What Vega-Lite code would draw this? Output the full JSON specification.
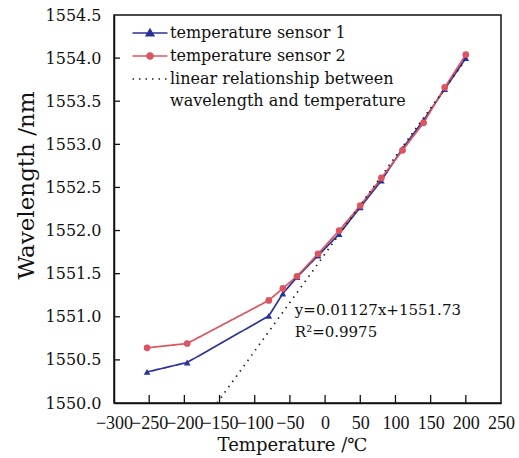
{
  "$schema": "https://vega.github.io/schema/vega-lite/v6.json",
  "width": 387,
  "height": 388,
  "autosize": "none",
  "padding": {"left": 114, "top": 15, "right": 18, "bottom": 55},
  "background": "white",
  "config": {
    "view": {"stroke": "#111", "strokeWidth": 1.5},
    "axis": {
      "domainColor": "#111",
      "domainWidth": 1.5,
      "labelColor": "#111",
      "titleColor": "#111",
      "titleFont": "DejaVu Serif",
      "titleFontWeight": "normal",
      "labelOverlap": false,
      "labelFlush": false,
      "ticks": false,
      "grid": false
    },
    "axisX": {
      "labelPadding": 11,
      "labelFont": "Liberation Serif",
      "labelFontSize": 18,
      "titleFontSize": 18,
      "titlePadding": 4,
      "titleX": 178
    },
    "axisY": {
      "labelPadding": 13,
      "labelFont": "DejaVu Serif",
      "labelFontSize": 16,
      "titleFontSize": 23,
      "titlePadding": 7,
      "titleY": 170
    },
    "legend": {
      "orient": "none",
      "legendX": 28,
      "legendY": 10,
      "padding": 0,
      "labelFont": "DejaVu Serif",
      "labelFontSize": 16,
      "labelColor": "#111",
      "labelLimit": 0,
      "labelOffset": 12,
      "rowPadding": 7,
      "symbolSize": 100,
      "symbolStrokeWidth": 1.6,
      "labelBaseline": "alphabetic"
    }
  },
  "datasets": {
    "main": [
      {"series": "temperature sensor 1", "T": -253, "wl": 1550.36},
      {"series": "temperature sensor 1", "T": -196, "wl": 1550.47},
      {"series": "temperature sensor 1", "T": -80, "wl": 1551.01},
      {"series": "temperature sensor 1", "T": -60, "wl": 1551.27},
      {"series": "temperature sensor 1", "T": -40, "wl": 1551.46},
      {"series": "temperature sensor 1", "T": -10, "wl": 1551.71},
      {"series": "temperature sensor 1", "T": 20, "wl": 1551.96},
      {"series": "temperature sensor 1", "T": 50, "wl": 1552.27},
      {"series": "temperature sensor 1", "T": 80, "wl": 1552.58},
      {"series": "temperature sensor 1", "T": 110, "wl": 1552.95},
      {"series": "temperature sensor 1", "T": 140, "wl": 1553.28},
      {"series": "temperature sensor 1", "T": 170, "wl": 1553.64},
      {"series": "temperature sensor 1", "T": 200, "wl": 1554.0},
      {"series": "temperature sensor 2", "T": -253, "wl": 1550.64},
      {"series": "temperature sensor 2", "T": -196, "wl": 1550.69},
      {"series": "temperature sensor 2", "T": -80, "wl": 1551.19},
      {"series": "temperature sensor 2", "T": -60, "wl": 1551.33},
      {"series": "temperature sensor 2", "T": -40, "wl": 1551.47},
      {"series": "temperature sensor 2", "T": -10, "wl": 1551.73},
      {"series": "temperature sensor 2", "T": 20, "wl": 1552.0},
      {"series": "temperature sensor 2", "T": 50, "wl": 1552.29},
      {"series": "temperature sensor 2", "T": 80, "wl": 1552.61},
      {"series": "temperature sensor 2", "T": 110, "wl": 1552.93},
      {"series": "temperature sensor 2", "T": 140, "wl": 1553.25},
      {"series": "temperature sensor 2", "T": 170, "wl": 1553.66},
      {"series": "temperature sensor 2", "T": 200, "wl": 1554.04},
      {"series": "linear relationship between wavelength and temperature", "T": -153.5, "wl": 1550.0},
      {"series": "linear relationship between wavelength and temperature", "T": 200, "wl": 1553.984}
    ],
    "xticks": [
      {"T": -250}, {"T": -200}, {"T": -150}, {"T": -100}, {"T": -50},
      {"T": 0}, {"T": 50}, {"T": 100}, {"T": 150}, {"T": 200}
    ],
    "yticks": [
      {"wl": 1550.5}, {"wl": 1551}, {"wl": 1551.5}, {"wl": 1552},
      {"wl": 1552.5}, {"wl": 1553}, {"wl": 1553.5}, {"wl": 1554}
    ]
  },
  "layer": [
    {
      "data": {"name": "xticks"},
      "mark": {"type": "rule", "color": "#111", "strokeWidth": 1.3},
      "encoding": {
        "x": {
          "field": "T",
          "type": "quantitative",
          "title": "Temperature /℃",
          "scale": {"domain": [-300, 250], "nice": false, "zero": false},
          "axis": {
            "values": [-300, -250, -200, -150, -100, -50, 0, 50, 100, 150, 200, 250],
            "format": "d",
            "labelOverlap": false
          }
        },
        "y": {
          "datum": 1550,
          "type": "quantitative",
          "title": "Wavelength /nm",
          "scale": {"domain": [1550, 1554.5], "nice": false, "zero": false},
          "axis": {
            "values": [1550, 1550.5, 1551, 1551.5, 1552, 1552.5, 1553, 1553.5, 1554, 1554.5],
            "format": ".1f",
            "labelOverlap": false
          }
        },
        "y2": {"datum": 1550.093}
      }
    },
    {
      "data": {"name": "yticks"},
      "mark": {"type": "rule", "color": "#111", "strokeWidth": 1.3},
      "encoding": {
        "y": {
          "field": "wl",
          "type": "quantitative",
          "title": "Wavelength /nm",
          "axis": {
            "values": [1550, 1550.5, 1551, 1551.5, 1552, 1552.5, 1553, 1553.5, 1554, 1554.5],
            "format": ".1f",
            "labelOverlap": false
          }
        },
        "x": {
          "datum": -300,
          "type": "quantitative",
          "title": "Temperature /℃",
          "axis": {
            "values": [-300, -250, -200, -150, -100, -50, 0, 50, 100, 150, 200, 250],
            "format": "d",
            "labelOverlap": false
          }
        },
        "x2": {"datum": -291.5}
      }
    },
    {
      "data": {"name": "main"},
      "mark": {"type": "line", "strokeWidth": 1.7},
      "encoding": {
        "x": {
          "field": "T",
          "type": "quantitative",
          "title": "Temperature /℃",
          "axis": {
            "values": [-300, -250, -200, -150, -100, -50, 0, 50, 100, 150, 200, 250],
            "format": "d",
            "labelOverlap": false
          }
        },
        "y": {
          "field": "wl",
          "type": "quantitative",
          "title": "Wavelength /nm",
          "axis": {
            "values": [1550, 1550.5, 1551, 1551.5, 1552, 1552.5, 1553, 1553.5, 1554, 1554.5],
            "format": ".1f",
            "labelOverlap": false
          }
        },
        "color": {
          "field": "series",
          "type": "nominal",
          "scale": {
            "domain": ["temperature sensor 1", "temperature sensor 2", "linear relationship between wavelength and temperature"],
            "range": ["#2c3299", "#dc5460", "#222222"]
          },
          "legend": {
            "title": null,
            "labelExpr": "datum.label === 'linear relationship between wavelength and temperature' ? ['linear relationship between', 'wavelength and temperature'] : datum.label",
            "encode": {
              "symbols": {
                "update": {
                  "shape": {"signal": "datum.value === 'temperature sensor 1' ? 'M-3.5,0H3.5M-0.75,0.55L0,-0.75L0.75,0.55Z' : datum.value === 'temperature sensor 2' ? 'M-3.5,0H3.5M0.6,0A0.6,0.6,0,1,1,-0.6,0A0.6,0.6,0,1,1,0.6,0Z' : 'M-3.5,0H3.5'"},
                  "strokeDash": {"signal": "datum.value === 'linear relationship between wavelength and temperature' ? [1.5, 5] : [1, 0]"},
                  "fill": {"signal": "scale('color', datum.value)"},
                  "stroke": {"signal": "scale('color', datum.value)"},
                  "opacity": {"value": 1}
                }
              },
              "labels": {
                "update": {
                  "dy": {"value": 5},
                  "lineHeight": {"value": 22}
                }
              }
            }
          }
        },
        "strokeDash": {
          "field": "series",
          "type": "nominal",
          "scale": {
            "domain": ["temperature sensor 1", "temperature sensor 2", "linear relationship between wavelength and temperature"],
            "range": [[1, 0], [1, 0], [1.5, 5]]
          },
          "legend": null
        }
      }
    },
    {
      "data": {"name": "main"},
      "transform": [{"filter": "datum.series !== 'linear relationship between wavelength and temperature'"}],
      "mark": {"type": "point", "filled": true, "size": 45, "opacity": 1},
      "encoding": {
        "x": {
          "field": "T",
          "type": "quantitative",
          "title": "Temperature /℃",
          "axis": {
            "values": [-300, -250, -200, -150, -100, -50, 0, 50, 100, 150, 200, 250],
            "format": "d",
            "labelOverlap": false
          }
        },
        "y": {
          "field": "wl",
          "type": "quantitative",
          "title": "Wavelength /nm",
          "axis": {
            "values": [1550, 1550.5, 1551, 1551.5, 1552, 1552.5, 1553, 1553.5, 1554, 1554.5],
            "format": ".1f",
            "labelOverlap": false
          }
        },
        "color": {"field": "series", "type": "nominal"},
        "shape": {
          "field": "series",
          "type": "nominal",
          "scale": {"domain": ["temperature sensor 1", "temperature sensor 2"], "range": ["triangle-up", "circle"]},
          "legend": null
        }
      }
    },
    {
      "data": {"values": [{"note": "fit"}]},
      "mark": {
        "type": "text",
        "text": ["y=0.01127x+1551.73", "R²=0.9975"],
        "align": "left",
        "baseline": "middle",
        "font": "DejaVu Serif",
        "fontSize": 15,
        "lineHeight": 22,
        "color": "#111"
      },
      "encoding": {
        "x": {
          "datum": -43,
          "type": "quantitative",
          "title": "Temperature /℃",
          "axis": {
            "values": [-300, -250, -200, -150, -100, -50, 0, 50, 100, 150, 200, 250],
            "format": "d",
            "labelOverlap": false
          }
        },
        "y": {
          "datum": 1551.08,
          "type": "quantitative",
          "title": "Wavelength /nm",
          "axis": {
            "values": [1550, 1550.5, 1551, 1551.5, 1552, 1552.5, 1553, 1553.5, 1554, 1554.5],
            "format": ".1f",
            "labelOverlap": false
          }
        }
      }
    }
  ]
}
